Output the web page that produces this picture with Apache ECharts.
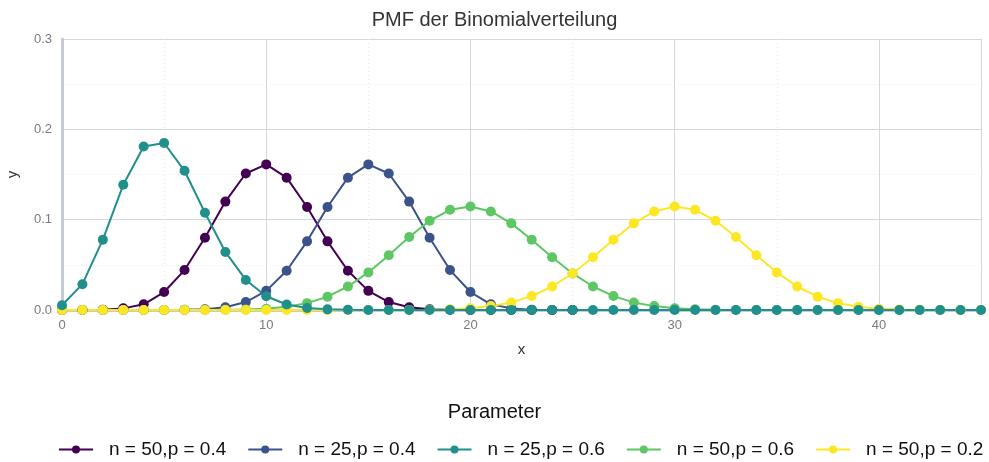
<!DOCTYPE html>
<html>
<head>
<meta charset="utf-8">
<script src="https://cdn.jsdelivr.net/npm/echarts@6/dist/echarts.min.js"></script>
<style>
  html, body { margin: 0; padding: 0; background: #fff; }
  #main { width: 989px; height: 462px; }
</style>
</head>
<body>
<div id="main"></div>
<script>
// x-Werte 0..45
let xs = [];
for (let i = 0; i <= 45; i++) xs.push(i);

let labels = ['n = 50,p = 0.4', 'n = 25,p = 0.4', 'n = 25,p = 0.6', 'n = 50,p = 0.6', 'n = 50,p = 0.2'];
let colors = ['#440154', '#3b528b', '#21908c', '#5dc863', '#fde725'];

// Werte (x = 0, 1, 2, ...)
let purpleY = [0.0000, 0.0000, 0.0004, 0.0018, 0.0063, 0.0199, 0.0442, 0.0800, 0.1200, 0.1511,
  0.1612, 0.1465, 0.1140, 0.0760, 0.0434, 0.0212, 0.0088, 0.0031, 0.0009, 0.0002,
  0.0000, 0.0000, 0.0000, 0.0000, 0.0000, 0.0000];
let blueY = [0.0000, 0.0000, 0.0000, 0.0000, 0.0000, 0.0000, 0.0002, 0.0009, 0.0031, 0.0088,
  0.0212, 0.0434, 0.0760, 0.1140, 0.1465, 0.1612, 0.1511, 0.1200, 0.0800, 0.0442,
  0.0199, 0.0063, 0.0018, 0.0004, 0.0000, 0.0000];
let tealY = [0.0052, 0.0286, 0.0779, 0.1386, 0.1809, 0.1849, 0.1541, 0.1076, 0.0643, 0.0333,
  0.0152, 0.0061, 0.0022, 0.0007, 0.0002, 0.0000, 0.0000, 0.0000, 0.0000, 0.0000,
  0.0000, 0.0000, 0.0000, 0.0000, 0.0000, 0.0000, 0.0000, 0.0000, 0.0000, 0.0000,
  0.0000, 0.0000, 0.0000, 0.0000, 0.0000, 0.0000, 0.0000, 0.0000, 0.0000, 0.0000,
  0.0000, 0.0000, 0.0000, 0.0000, 0.0000, 0.0000];
let greenY = [0.0000, 0.0000, 0.0000, 0.0000, 0.0000, 0.0000, 0.0000, 0.0000, 0.0002, 0.0005,
  0.0014, 0.0035, 0.0076, 0.0147, 0.0260, 0.0416, 0.0606, 0.0808, 0.0988, 0.1109,
  0.1146, 0.1091, 0.0959, 0.0778, 0.0584, 0.0405, 0.0260, 0.0154, 0.0084, 0.0043,
  0.0020, 0.0009, 0.0003, 0.0001, 0.0000, 0.0000, 0.0000, 0.0000, 0.0000, 0.0000,
  0.0000, 0.0000, 0.0000, 0.0000, 0.0000, 0.0000];
let yellowY = [0.0000, 0.0000, 0.0000, 0.0000, 0.0000, 0.0000, 0.0000, 0.0000, 0.0000, 0.0000,
  0.0000, 0.0000, 0.0000, 0.0000, 0.0000, 0.0000, 0.0000, 0.0001, 0.0003, 0.0009,
  0.0020, 0.0043, 0.0084, 0.0154, 0.0260, 0.0405, 0.0584, 0.0778, 0.0959, 0.1091,
  0.1146, 0.1109, 0.0988, 0.0808, 0.0606, 0.0416, 0.0260, 0.0147, 0.0076, 0.0035,
  0.0014, 0.0005, 0.0002, 0.0000, 0.0000, 0.0000];

let yTicks = [0, 0.1, 0.2, 0.3];

let font = 'Liberation Sans, Arial, sans-serif';

function pairs(ys) {
  return ys.map(function (v, i) { return [xs[i], v]; });
}

function makeSeries(idx, ys) {
  return {
    name: labels[idx],
    type: 'line',
    data: pairs(ys),
    symbol: 'circle',
    symbolSize: 10,
    showSymbol: true,
    lineStyle: { width: 2, color: colors[idx] },
    itemStyle: { color: colors[idx] },
    emphasis: { disabled: true },
    animation: false
  };
}

var myChart = echarts.init(document.getElementById('main'));

var option = {
  animation: false,
  textStyle: { fontFamily: font },
  title: [
    {
      text: 'PMF der Binomialverteilung',
      left: 'center',
      top: 5,
      textStyle: { fontSize: 20, fontWeight: 'normal', color: '#333', fontFamily: font }
    },
    {
      text: 'Parameter',
      left: 'center',
      top: 397,
      textStyle: { fontSize: 20, fontWeight: 'normal', color: '#111', fontFamily: font }
    }
  ],
  legend: {
    data: labels,
    top: 440,
    left: 58,
    width: 980,
    padding: 0,
    itemWidth: 34,
    itemHeight: 10,
    itemGap: 21,
    textStyle: { fontSize: 19, color: '#111', padding: [0, 0, 0, 11], fontFamily: font }
  },
  grid: { left: 62, right: 8, top: 39, bottom: 152, outerBoundsMode: 'none' },
  xAxis: {
    type: 'value',
    min: 0,
    max: 45,
    interval: 10,
    name: 'x',
    nameLocation: 'middle',
    nameGap: 32,
    nameTextStyle: { fontSize: 15, color: '#333' },
    axisLine: { show: true, onZero: false, lineStyle: { color: '#c5cad4', width: 3 } },
    axisTick: { show: false },
    axisLabel: { color: '#7a7a7a', fontSize: 13, margin: 9,
      formatter: function (v) { return v % 10 === 0 ? String(v) : ''; } },
    splitLine: { show: true, lineStyle: { color: '#d3d7df', width: 1 } },
    minorTick: { show: false, splitNumber: 2 },
    minorSplitLine: { show: true, lineStyle: { color: '#e6e8ec', type: [1, 3], width: 1 } }
  },
  yAxis: {
    type: 'value',
    min: 0,
    max: 0.3,
    interval: 0.1,
    name: 'y',
    nameLocation: 'middle',
    nameGap: 42,
    nameTextStyle: { fontSize: 15, color: '#333' },
    axisLine: { show: true, lineStyle: { color: '#c5cad4', width: 3 } },
    axisTick: { show: false },
    axisLabel: { color: '#7a7a7a', fontSize: 13, margin: 10,
      formatter: function (v) {
        for (let i = 0; i < yTicks.length; i++) {
          if (Math.abs(v - yTicks[i]) < 1e-9) return yTicks[i].toFixed(1);
        }
        return '';
      } },
    splitLine: { show: true, lineStyle: { color: '#d3d7df', width: 1 } },
    minorTick: { show: false, splitNumber: 2 },
    minorSplitLine: { show: true, lineStyle: { color: '#e6e8ec', type: [1, 3], width: 1 } }
  },
  // Zeichenreihenfolge wie im Bild: gruen, gelb unter tuerkis
  series: [
    makeSeries(0, purpleY),
    makeSeries(1, blueY),
    makeSeries(3, greenY),
    makeSeries(4, yellowY),
    makeSeries(2, tealY)
  ]
};

myChart.setOption(option);
</script>
</body>
</html>
